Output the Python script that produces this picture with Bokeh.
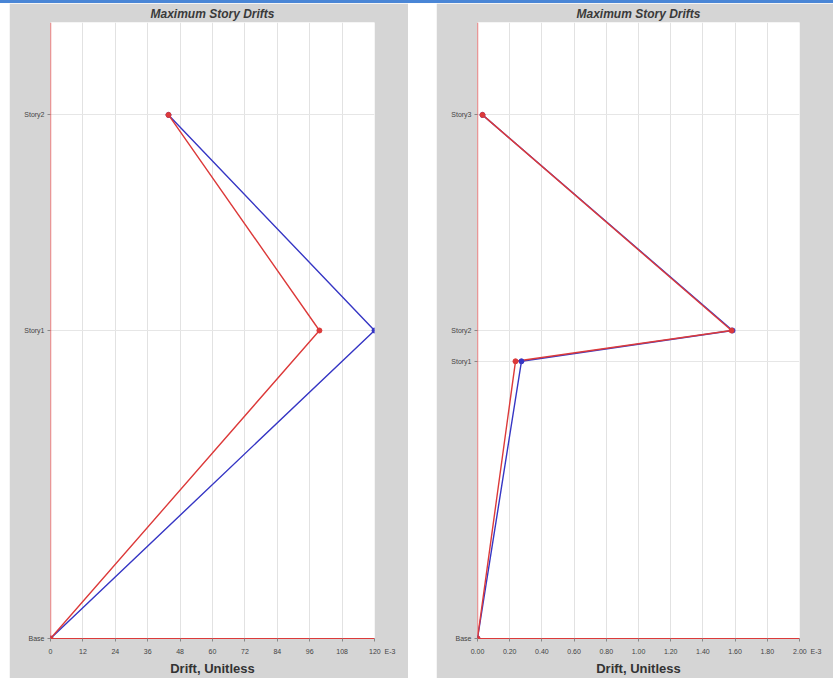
from bokeh.plotting import figure
from bokeh.layouts import row, column
from bokeh.models import Spacer, FixedTicker, Range1d, Div, Span
from bokeh.embed import file_html
from bokeh.resources import INLINE

# ---- data (drift values in units of E-3) ----
left_stories = ["Base", "Story1", "Story2"]
left_elev = [0.0, 4.0, 6.8]
left_red = [0.0, 99.6, 43.7]
left_blue = [0.0, 120.0, 43.7]
left_xticks = [0, 12, 24, 36, 48, 60, 72, 84, 96, 108, 120]
left_xlabels = ["0", "12", "24", "36", "48", "60", "72", "84", "96", "108", "120"]

right_stories = ["Base", "Story1", "Story2", "Story3"]
right_elev = [0.0, 3.6, 4.0, 6.8]
right_red = [0.0, 0.236, 1.578, 0.031]
right_blue = [0.0, 0.273, 1.584, 0.031]
right_xticks = [0.0, 0.2, 0.4, 0.6, 0.8, 1.0, 1.2, 1.4, 1.6, 1.8, 2.0]
right_xlabels = ["0.00", "0.20", "0.40", "0.60", "0.80", "1.00", "1.20", "1.40", "1.60", "1.80", "2.00"]

title_text = "Maximum Story Drifts"
xlabel_text = "Drift, Unitless"
exp_text = "E-3"

BG = "#d5d5d5"
RED = "#dc3a3a"
BLUE = "#3636c4"
FONT = "Liberation Sans"
NB = "\u00a0"


def make(stories, elev, red, blue, xticks, xlabels, xmax, width, left_b, right_b):
    p = figure(width=width, height=675, output_backend="svg", toolbar_location=None,
               x_range=Range1d(0, xmax), y_range=Range1d(0, 8.0),
               min_border_left=left_b, min_border_right=right_b,
               min_border_top=19, min_border_bottom=40)
    p.border_fill_color = BG
    p.background_fill_color = "white"
    p.outline_line_color = None
    p.title.text = title_text
    p.title.align = "center"
    p.title.text_font = FONT
    p.title.text_font_size = "12px"
    p.title.text_font_style = "bold italic"
    p.title.text_color = "#3a3a3a"
    p.title.offset = 0
    p.title.standoff = 3

    labels = list(xlabels)
    labels[-1] = NB * 8 + labels[-1] + NB * 2 + exp_text
    p.xaxis.ticker = FixedTicker(ticks=xticks)
    p.xaxis.major_label_overrides = {t: l for t, l in zip(xticks, labels)}
    p.yaxis.ticker = FixedTicker(ticks=elev)
    p.yaxis.major_label_overrides = {e: s for e, s in zip(elev, stories)}
    for ax in (p.xaxis, p.yaxis):
        ax.axis_line_color = RED
        ax.axis_line_width = 1
        ax.major_tick_line_color = "#888888"
        ax.major_tick_in = 0
        ax.major_tick_out = 3
        ax.minor_tick_line_color = None
        ax.major_label_text_font = FONT
        ax.major_label_text_font_size = "7px"
        ax.major_label_text_color = "#444444"
    p.yaxis.axis_line_color = None
    p.xaxis.major_label_standoff = 6
    p.yaxis.major_label_standoff = 3
    p.xaxis.axis_label = xlabel_text
    p.xaxis.axis_label_text_font = FONT
    p.xaxis.axis_label_text_font_size = "13px"
    p.xaxis.axis_label_text_font_style = "bold"
    p.xaxis.axis_label_text_color = "#333333"
    p.xaxis.axis_label_standoff = 3

    p.xgrid.grid_line_color = "#e2e2e2"
    p.ygrid.grid_line_color = "#e6e6e6"

    p.line(blue, elev, line_color=BLUE, line_width=1.4)
    p.line(red, elev, line_color=RED, line_width=1.4)
    p.scatter(blue, elev, size=5, fill_color=BLUE, line_color=BLUE)
    p.scatter(red, elev, size=5, fill_color=RED, line_color=RED)

    p.add_layout(Span(location=0, dimension="height", line_color=RED,
                      line_width=1.3, level="overlay"))
    return p


p1 = make(left_stories, left_elev, left_red, left_blue, left_xticks, left_xlabels,
          120, 399, 41, 34)
p2 = make(right_stories, right_elev, right_red, right_blue, right_xticks, right_xlabels,
          2.0, 397, 41, 34)

band = Div(text="", width=833, height=3, margin=0,
           styles={"background-color": "#4a86d6"})
layout = column(band, row(Spacer(width=9), p1, Spacer(width=28), p2), spacing=0)
open("out.html", "w").write(file_html(layout, INLINE))
